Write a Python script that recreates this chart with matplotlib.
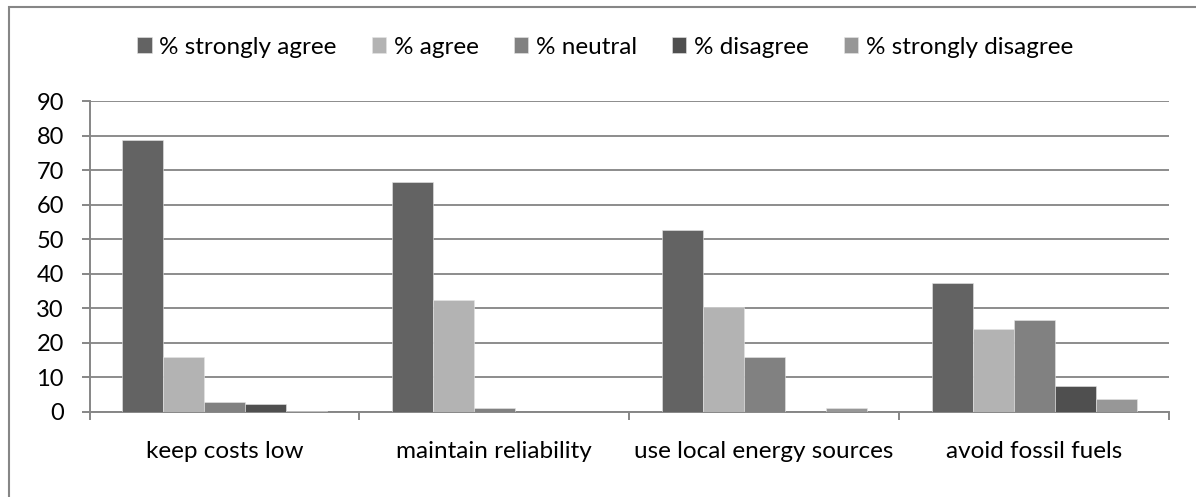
import matplotlib
matplotlib.use("Agg")
import matplotlib.pyplot as plt
from matplotlib.patches import Rectangle
import numpy as np

plt.rcParams['font.family'] = ['Lato', 'DejaVu Sans']

# Survey data (percent of respondents)
categories = ["keep costs low", "maintain reliability", "use local energy sources", "avoid fossil fuels"]
series_names = ["% strongly agree", "% agree", "% neutral", "% disagree", "% strongly disagree"]
strongly_agree = [78.7, 66.7, 52.6, 37.5]
agree = [15.9, 32.3, 30.4, 24.1]
neutral = [2.8, 1.1, 15.8, 26.7]
disagree = [2.2, 0.0, 0.0, 7.5]
strongly_disagree = [0.4, 0.0, 1.1, 3.7]
colors = ["#636363", "#b3b3b3", "#818181", "#4f4f4f", "#979797"]

W, H, DPI = 1196, 497, 100
fig = plt.figure(figsize=(W / DPI, H / DPI), dpi=DPI)

# axes placement in pixels
left, right, top, bottom = 89.5, 1169, 101.3, 412
ax = fig.add_axes([left / W, 1 - bottom / H, (right - left) / W, (bottom - top) / H])

values = [strongly_agree, agree, neutral, disagree, strongly_disagree]
x = np.arange(len(categories))
bar_w = 0.152
for i, (name, vals) in enumerate(zip(series_names, values)):
    offs = (i - 2) * bar_w
    ax.bar(x + offs, vals, width=bar_w, color=colors[i], label=name,
           edgecolor="#e6e6e6", linewidth=0.4, zorder=3)

ax.set_xlim(-0.5, len(categories) - 0.5)
ax.set_ylim(0, 90)
ax.set_yticks(range(0, 91, 10))

# gridlines
ax.yaxis.grid(True, color="#8c8c8c", linewidth=1.4, zorder=0)
ax.set_axisbelow(True)

for s in ["top", "right"]:
    ax.spines[s].set_visible(False)
for s in ["left", "bottom"]:
    ax.spines[s].set_color("#868686")
    ax.spines[s].set_linewidth(1.4)

# x ticks at category boundaries, labels centred
ax.set_xticks(np.arange(-0.5, len(categories), 1.0))
ax.set_xticklabels([])
ax.set_xticks(x, minor=True)
ax.set_xticklabels(categories, minor=True, fontsize=17.5)
ax.tick_params(axis="x", which="major", length=6, width=1.4, color="#868686")
ax.tick_params(axis="x", which="minor", length=0, pad=21)
ax.tick_params(axis="y", length=6, width=1.4, color="#868686", labelsize=17, pad=12.5)

ax.legend(loc="center", bbox_to_anchor=(605 / W, 1 - 47 / H), bbox_transform=fig.transFigure,
          ncol=5, frameon=False, fontsize=17.5, handlelength=0.6, handleheight=0.6,
          handletextpad=0.3, columnspacing=1.45)

# outer chart border (cut off at right and bottom)
fig.patches.append(Rectangle((9 / W, -0.05), 1.1, 1 - 7.3 / H + 0.05, transform=fig.transFigure,
                             fill=False, edgecolor="#868686", linewidth=1.5))

fig.savefig("out.png", dpi=DPI)
